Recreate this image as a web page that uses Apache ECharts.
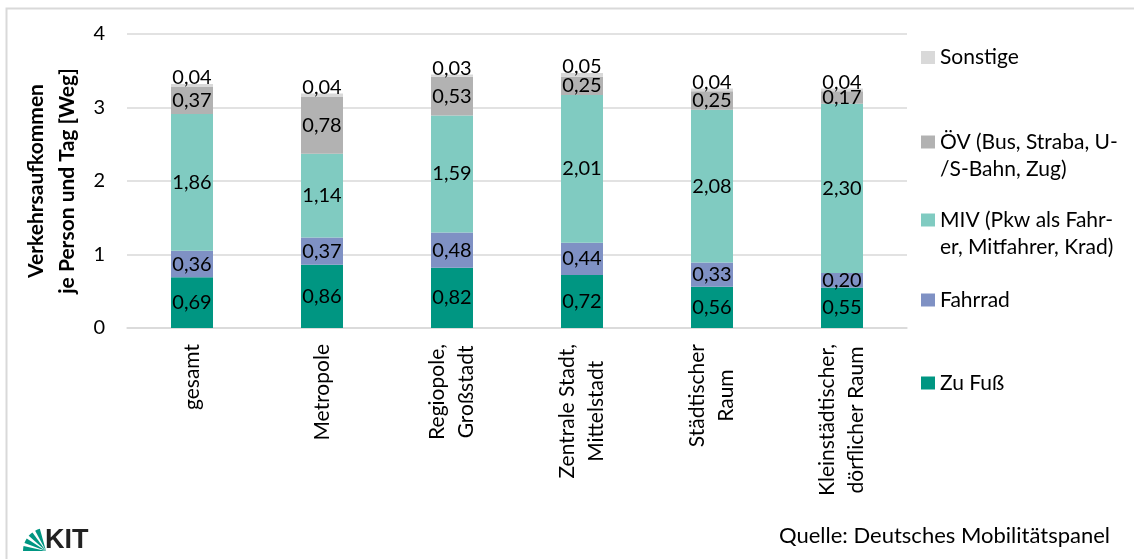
<!DOCTYPE html>
<html>
<head>
<meta charset="utf-8">
<script src="https://cdn.jsdelivr.net/npm/echarts@6/dist/echarts.min.js"></script>
<style>
  html, body { margin: 0; padding: 0; background: #fff; }
  #chart { width: 1134px; height: 559px; }
</style>
</head>
<body>
<div id="chart"></div>
<script>
// ---- data ----
const categories = [
  'gesamt',
  'Metropole',
  'Regiopole,\nGroßstadt',
  'Zentrale Stadt,\nMittelstadt',
  'Städtischer\nRaum',
  'Kleinstädtischer,\ndörflicher Raum'
];
const seriesNames = [
  'Zu Fuß',
  'Fahrrad',
  'MIV (Pkw als Fahrer, Mitfahrer, Krad)',
  'ÖV (Bus, Straba, U-/S-Bahn, Zug)',
  'Sonstige'
];
const legendLines = {
  'Zu Fuß': ['Zu Fuß'],
  'Fahrrad': ['Fahrrad'],
  'MIV (Pkw als Fahrer, Mitfahrer, Krad)': ['MIV (Pkw als Fahr-', 'er, Mitfahrer, Krad)'],
  'ÖV (Bus, Straba, U-/S-Bahn, Zug)': ['ÖV (Bus, Straba, U-', '/S-Bahn, Zug)'],
  'Sonstige': ['Sonstige']
};
const zuFuss    = [0.69, 0.86, 0.82, 0.72, 0.56, 0.55];
const fahrrad   = [0.36, 0.37, 0.48, 0.44, 0.33, 0.20];
const miv       = [1.86, 1.14, 1.59, 2.01, 2.08, 2.30];
const oev       = [0.37, 0.78, 0.53, 0.25, 0.25, 0.17];
const sonstige  = [0.04, 0.04, 0.03, 0.05, 0.04, 0.04];
const yTicks = { min: 0, max: 4, interval: 1 };
const yAxisTitle = 'Verkehrsaufkommen\nje Person und Tag [Weg]';
const sourceText = 'Quelle: Deutsches Mobilitätspanel';
const logoText = 'KIT';

// ---- styling ----
const FONT = 'Lato';
const colors = ['#009682', '#7F91C4', '#80CBC1', '#B2B2B2', '#D9D9D9'];
const values = [zuFuss, fahrrad, miv, oev, sonstige];

const fmt = p => p.value.toFixed(2).replace('.', ',');

const series = seriesNames.map((name, i) => ({
  name: name,
  type: 'bar',
  stack: 'total',
  barWidth: 42,
  data: values[i],
  itemStyle: { color: colors[i] },
  label: {
    show: true,
    position: i === 4 ? 'top' : 'inside',
    distance: i === 4 ? -4 : 0,
    formatter: fmt,
    color: '#000',
    fontFamily: FONT,
    fontSize: 20,
    lineHeight: 20,
    textBorderWidth: 0
  },
  emphasis: { disabled: true }
}));

const legendTops = [369.5, 286.5, 179.5, 101.5, 44];
const legends = seriesNames.map((name, i) => ({
  data: [{ name: name, icon: 'rect' }],
  left: 921,
  top: legendTops[i],
  padding: 0,
  itemWidth: 14,
  itemHeight: 13,
  selectedMode: false,
  formatter: n => {
    const l = legendLines[n];
    return l.length > 1 ? '\u00a0\n' + l.join('\n') : l[0];
  },
  textStyle: { fontFamily: FONT, fontSize: 21, lineHeight: 27, color: '#000' }
}));

const fanCx = 46, fanCy = 551, fanR = 23;
const fan = [[0, 0.22], [0.36, 0.58], [0.72, 0.94], [1.08, 1.30]].map(a => ({
  type: 'sector',
  shape: { cx: fanCx, cy: fanCy, r: fanR, r0: 0, startAngle: Math.PI + a[0], endAngle: Math.PI + a[1] },
  style: { fill: '#009682' },
  silent: true
}));

const chart = echarts.init(document.getElementById('chart'), null, { renderer: 'canvas' });
chart.setOption({
  animation: false,
  backgroundColor: '#fff',
  textStyle: { fontFamily: FONT },
  grid: { left: 127, right: 227, top: 34, bottom: 231 },
  legend: legends,
  xAxis: {
    type: 'category',
    data: categories,
    axisLine: { show: true, lineStyle: { color: '#D9D9D9', width: 1.5 } },
    axisTick: { show: false },
    axisLabel: {
      rotate: 90,
      margin: 16,
      interval: 0,
      fontFamily: FONT,
      fontSize: 21,
      color: '#000',
      formatter: v => v.split('\n').map(s => '{a|' + s + '}').join('\n'),
      rich: { a: { align: 'center', fontFamily: FONT, fontSize: 21, lineHeight: 29, color: '#000' } }
    }
  },
  yAxis: {
    type: 'value',
    min: yTicks.min,
    max: yTicks.max,
    interval: yTicks.interval,
    name: yAxisTitle,
    nameLocation: 'middle',
    nameGap: 40,
    nameTextStyle: { fontFamily: FONT, fontSize: 21, fontWeight: 'bold', lineHeight: 31, color: '#000' },
    axisLine: { show: false },
    axisTick: { show: false },
    axisLabel: { fontFamily: FONT, fontSize: 20, color: '#000', margin: 22 },
    splitLine: { lineStyle: { color: '#D9D9D9', width: 1.5 } }
  },
  series: series,
  graphic: [
    {
      type: 'rect',
      shape: { x: 6.5, y: 8.5, width: 1200, height: 600 },
      style: { fill: 'none', stroke: '#D9D9D9', lineWidth: 2 },
      silent: true
    },
    {
      type: 'text',
      x: 1110,
      y: 536,
      style: { text: sourceText, fontFamily: FONT, fontSize: 22, fill: '#000', align: 'right', verticalAlign: 'middle' },
      silent: true
    },
    ...fan,
    {
      type: 'text',
      x: 45,
      y: 541,
      style: { text: logoText, fontFamily: 'Liberation Sans', fontWeight: 'bold', fontSize: 27, fill: '#222', verticalAlign: 'middle' },
      silent: true
    }
  ]
});
</script>
</body>
</html>
